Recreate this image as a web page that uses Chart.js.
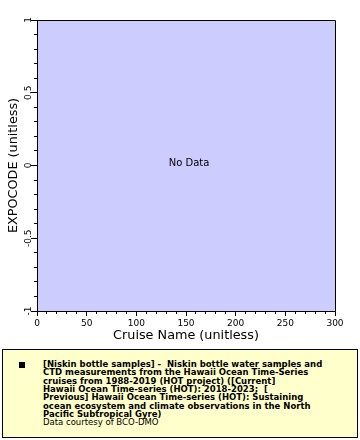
<!DOCTYPE html>
<html>
<head>
<meta charset="utf-8">
<script src="https://cdn.jsdelivr.net/npm/chart.js@4"></script>
<style>
  html, body { margin:0; padding:0; background:#fff; width:360px; height:440px; overflow:hidden; }
  #wrap { position:relative; width:360px; height:440px; }
  canvas { position:absolute; left:0; top:0; }
  #legend { position:absolute; left:2px; top:349px; width:356px; height:89px; box-sizing:border-box;
            border:1px solid #000; background:#ffffcc; }
  #sq { position:absolute; left:19px; top:362px; width:6px; height:6px; background:#000; }
  #ltext { position:absolute; left:43px; top:360px; font-family:"DejaVu Sans"; font-size:8.5px;
           line-height:8.33px; color:#000; white-space:pre; }
  #ltext b { font-weight:bold; }
</style>
</head>
<body>
<div id="wrap">
  <canvas id="c" width="360" height="345"></canvas>
  <div id="legend"></div>
  <div id="sq"></div>
  <div id="ltext"></div>
</div>
<script>
// ---- data ----
const cruiseName = [];          // x values (none: "No Data")
const expocode = [];            // y values (none)
const xTicks = [0, 50, 100, 150, 200, 250, 300];
const yTicks = [-1, -0.5, 0, 0.5, 1];
const xTitle = 'Cruise Name (unitless)';
const yTitle = 'EXPOCODE (unitless)';
const noDataText = 'No Data';
const legendLines = [
  '[Niskin bottle samples] -  Niskin bottle water samples and',
  'CTD measurements from the Hawaii Ocean Time-Series',
  'cruises from 1988-2019 (HOT project) ([Current]',
  'Hawaii Ocean Time-series (HOT): 2018-2023;  [',
  'Previous] Hawaii Ocean Time-series (HOT): Sustaining',
  'ocean ecosystem and climate observations in the North',
  'Pacific Subtropical Gyre)'
];
const legendCredit = 'Data courtesy of BCO-DMO';

// legend text
const lt = document.getElementById('ltext');
legendLines.forEach(l => { const b = document.createElement('b'); b.textContent = l; lt.appendChild(b); lt.appendChild(document.createTextNode('\n')); });
lt.appendChild(document.createTextNode(legendCredit));

const FONT = 'DejaVu Sans';
function align(px) { return Math.round(px + 0.5) - 0.5; }

const framePlugin = {
  id: 'frame',
  beforeDraw(chart) {
    const {ctx, chartArea: a} = chart;
    ctx.save();
    ctx.fillStyle = '#ccccff';
    ctx.fillRect(a.left, a.top, a.right - a.left, a.bottom - a.top);
    ctx.restore();
  },
  afterDraw(chart) {
    const {ctx, chartArea: a, scales} = chart;
    const xs = scales.x, ys = scales.y;
    ctx.save();
    ctx.strokeStyle = '#000';
    ctx.lineWidth = 1;
    ctx.beginPath();
    ctx.moveTo(align(a.left), align(a.top)); ctx.lineTo(align(a.right), align(a.top));
    ctx.lineTo(align(a.right), align(a.bottom));
    // minor x ticks
    for (let v = xs.min; v <= xs.max + 1e-9; v += 10) {
      if (Math.abs(v % 50) < 1e-9) continue;
      const px = align(xs.getPixelForValue(v));
      ctx.moveTo(px, a.bottom); ctx.lineTo(px, a.bottom + 3);
    }
    // minor y ticks
    for (let i = 0; i <= 20; i++) {
      const v = ys.min + i * 0.1;
      if (i % 5 === 0) continue;
      const py = align(ys.getPixelForValue(v));
      ctx.moveTo(a.left, py); ctx.lineTo(a.left - 3, py);
    }
    ctx.stroke();
    // y tick labels rotated
    ctx.fillStyle = '#000';
    ctx.font = '9px "' + FONT + '"';
    ctx.textAlign = 'center';
    ctx.textBaseline = 'alphabetic';
    yTicks.forEach(v => {
      const py = ys.getPixelForValue(v);
      ctx.save();
      ctx.translate(30.5, py);
      ctx.rotate(-Math.PI / 2);
      ctx.fillText(String(v), 0, 0);
      ctx.restore();
    });
    // No Data
    ctx.font = '10px "' + FONT + '"';
    ctx.textAlign = 'center';
    ctx.textBaseline = 'alphabetic';
    ctx.fillText(noDataText, (a.left + a.right) / 2 + 3, (a.top + a.bottom) / 2 + 0.5);
    ctx.restore();
  }
};

new Chart(document.getElementById('c'), {
  type: 'scatter',
  data: { datasets: [{ data: cruiseName.map((x, i) => ({x, y: expocode[i]})), pointRadius: 2, backgroundColor: '#000' }] },
  options: {
    responsive: false,
    animation: false,
    devicePixelRatio: 1,
    layout: { padding: { left: 0, right: 25, top: 20, bottom: 0 } },
    plugins: { legend: { display: false }, tooltip: { enabled: false } },
    scales: {
      x: {
        type: 'linear', position: 'bottom', min: 0, max: 300,
        afterBuildTicks: s => { s.ticks = xTicks.map(v => ({value: v})); },
        ticks: { color: '#000', font: { family: FONT, size: 9 }, padding: 2, maxRotation: 0, autoSkip: false },
        grid: { drawOnChartArea: false, drawTicks: true, tickLength: 5, color: '#000', lineWidth: 1 },
        border: { display: true, color: '#000', width: 1 },
        title: { display: true, text: xTitle, color: '#000', font: { family: FONT, size: 12.8 }, padding: { top: 0, bottom: 2 } },
        afterFit: s => { s.height = 34; }
      },
      y: {
        type: 'linear', position: 'left', min: -1, max: 1,
        afterBuildTicks: s => { s.ticks = yTicks.map(v => ({value: v})); },
        ticks: { display: false },
        grid: { drawOnChartArea: false, drawTicks: true, tickLength: 6, color: '#000', lineWidth: 1 },
        border: { display: true, color: '#000', width: 1 },
        title: { display: true, text: yTitle, color: '#000', font: { family: FONT, size: 12.8 }, padding: { top: 6, bottom: 0 } },
        afterFit: s => { s.width = 37; }
      }
    }
  },
  plugins: [framePlugin]
});
</script>
</body>
</html>
